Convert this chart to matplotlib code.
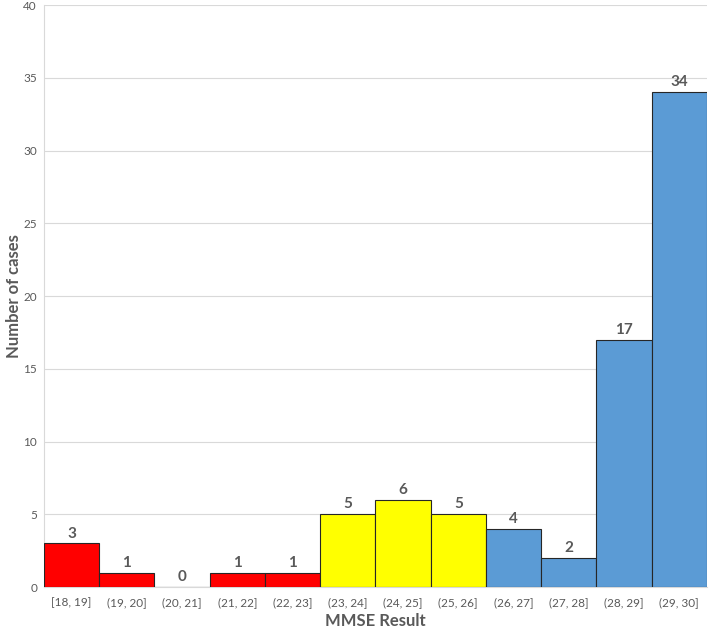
import matplotlib.pyplot as plt
import numpy as np

plt.rcParams['font.family'] = ['Lato', 'DejaVu Sans']

bins = ["[18, 19]", "(19, 20]", "(20, 21]", "(21, 22]", "(22, 23]", "(23, 24]",
        "(24, 25]", "(25, 26]", "(26, 27]", "(27, 28]", "(28, 29]", "(29, 30]"]
counts = [3, 1, 0, 1, 1, 5, 6, 5, 4, 2, 17, 34]
colors = ["#FF0000"] * 5 + ["#FFFF00"] * 3 + ["#5B9BD5"] * 4

fig = plt.figure(figsize=(7.09, 6.34), dpi=100)
ax = fig.add_axes([0.062, 0.074, 0.935, 0.918])

x = np.arange(len(bins))
ax.bar(x, counts, width=1.0, color=colors, edgecolor="#262626", linewidth=0.8, zorder=3)

for xi, c in zip(x, counts):
    ax.text(xi, c + 0.2, str(c), ha="center", va="bottom",
            fontsize=11, fontweight="bold", color="#595959")

ax.set_xlim(-0.5, len(bins) - 0.5)
ax.set_ylim(0, 40)
ax.set_yticks(np.arange(0, 41, 5))
ax.set_xticks(x)
ax.set_xticklabels(bins)
ax.tick_params(axis="both", length=0, colors="#595959", labelsize=8.5)
ax.tick_params(axis="x", pad=7)
ax.tick_params(axis="y", pad=5)
ax.grid(axis="y", color="#D9D9D9", linewidth=0.8, zorder=0)

for s in ["top", "right"]:
    ax.spines[s].set_visible(False)
ax.spines["left"].set_color("#D9D9D9")
ax.spines["bottom"].set_color("#D9D9D9")

ax.set_xlabel("MMSE Result", fontsize=12, fontweight="bold", color="#595959", labelpad=4)
ax.set_ylabel("Number of cases", fontsize=12, fontweight="bold", color="#595959", labelpad=1)

fig.savefig("out.png", dpi=100)
